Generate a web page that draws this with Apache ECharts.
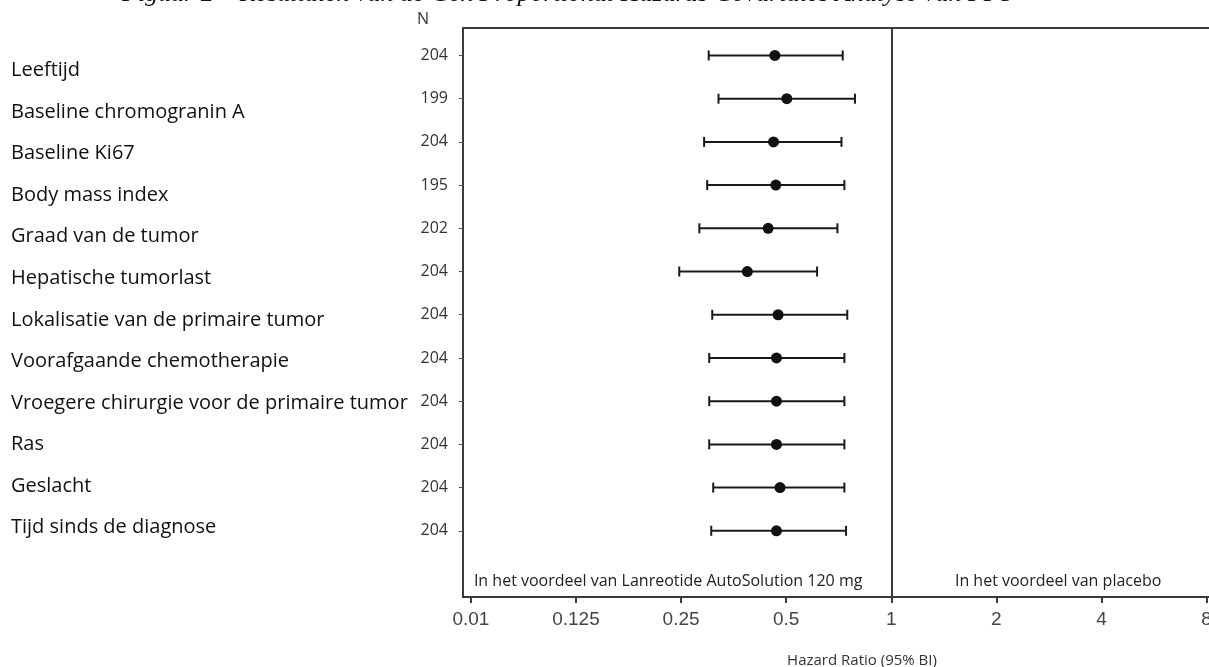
<!DOCTYPE html>
<html>
<head>
<meta charset="utf-8">
<script src="https://cdn.jsdelivr.net/npm/echarts@6/dist/echarts.min.js"></script>
<style>
  html, body { margin: 0; padding: 0; background: #fff; }
  #forest { width: 1209px; height: 667px; }
</style>
</head>
<body>
<div id="forest"></div>
<script>
// rijen (van boven naar beneden)
var rowNames = ['Leeftijd', 'Baseline chromogranin A', 'Baseline Ki67', 'Body mass index',
    'Graad van de tumor', 'Hepatische tumorlast', 'Lokalisatie van de primaire tumor',
    'Voorafgaande chemotherapie', 'Vroegere chirurgie voor de primaire tumor', 'Ras',
    'Geslacht', 'Tijd sinds de diagnose'];
var nValues = [204, 199, 204, 195, 202, 204, 204, 204, 204, 204, 204, 204];
// hazard ratio + 95% BI
var hrValues = [0.464, 0.502, 0.460, 0.467, 0.444, 0.387, 0.474, 0.469, 0.469, 0.469, 0.480, 0.469];
var lowerCI  = [0.300, 0.320, 0.291, 0.297, 0.282, 0.247, 0.307, 0.301, 0.301, 0.301, 0.309, 0.305];
var upperCI  = [0.726, 0.787, 0.720, 0.734, 0.701, 0.613, 0.748, 0.734, 0.734, 0.734, 0.734, 0.742];
// x-as: log2 schaal, eerste tick is 0.01 (gebroken as)
var tickLabels = ['0.01', '0.125', '0.25', '0.5', '1', '2', '4', '8'];
var tickPos = [-4, -3, -2, -1, 0, 1, 2, 3];

var rowIdx = rowNames.map(function (d, i) { return i; });
var log2 = function (v) { return Math.log(v) / Math.LN2; };

var chart = echarts.init(document.getElementById('forest'));
var dark = '#3a3a3a';
var option = {
    animation: false,
    backgroundColor: '#fff',
    grid: {
        left: 463,
        right: -6,
        top: 28,
        bottom: 70,
        outerBoundsMode: 'none',
        containLabel: false,
        show: true,
        borderColor: dark,
        borderWidth: 2
    },
    xAxis: {
        type: 'value',
        min: -4.075,
        max: 3.08,
        splitLine: { show: false },
        axisLine: { show: false, onZero: false },
        axisTick: {
            show: true,
            customValues: tickPos,
            length: 6,
            lineStyle: { color: dark, width: 2 }
        },
        axisLabel: {
            customValues: tickPos,
            margin: 13,
            color: '#444',
            fontFamily: 'Liberation Sans',
            fontSize: 19,
            formatter: function (v) { return tickLabels[tickPos.indexOf(Math.round(v))]; }
        },
        name: 'Hazard Ratio (95% BI)',
        nameLocation: 'middle',
        nameGap: 56,
        nameTextStyle: {
            color: '#333',
            fontFamily: 'Open Sans',
            fontSize: 15,
            padding: [0, 0, 0, 46]
        }
    },
    yAxis: [
        {
            // N per rij
            type: 'value',
            inverse: true,
            min: -0.636,
            max: 12.532,
            splitLine: { show: false },
            axisLine: { show: false, onZero: false },
            axisTick: {
                show: true,
                customValues: rowIdx,
                length: 4,
                lineStyle: { color: '#555', width: 1 }
            },
            axisLabel: {
                customValues: rowIdx,
                margin: 15,
                color: '#333',
                fontFamily: 'Open Sans',
                fontSize: 16,
                formatter: function (v) { return nValues[Math.round(v)]; }
            }
        },
        {
            // namen van de covariaten
            type: 'value',
            inverse: true,
            position: 'left',
            offset: 0,
            min: -1.022,
            max: 12.668,
            splitLine: { show: false },
            axisLine: { show: false, onZero: false },
            axisTick: { show: false },
            axisLabel: {
                customValues: rowIdx,
                margin: 452,
                align: 'left',
                color: '#111',
                fontFamily: 'Open Sans',
                fontSize: 20,
                formatter: function (v) { return rowNames[Math.round(v)]; }
            }
        }
    ],
    graphic: [
        {
            type: 'text',
            left: 122,
            top: -19,
            style: {
                text: 'Figuur 2 \u2013 Resultaten van de Cox Proportional Hazards Covariates Analyse van PFS',
                font: 'italic 26px "Liberation Serif"',
                fill: '#111'
            }
        },
        {
            type: 'text',
            left: 417,
            top: 11,
            style: { text: 'N', font: '16px "Open Sans"', fill: '#333' }
        }
    ],
    series: [
        {
            type: 'custom',
            name: 'BI',
            renderItem: function (params, api) {
                var y = api.value(0);
                var lo = api.coord([api.value(1), y]);
                var hi = api.coord([api.value(2), y]);
                var cap = 5;
                var st = { stroke: '#1a1a1a', lineWidth: 2 };
                return {
                    type: 'group',
                    children: [
                        { type: 'line', shape: { x1: lo[0], y1: lo[1], x2: hi[0], y2: hi[1] }, style: st },
                        { type: 'line', shape: { x1: lo[0], y1: lo[1] - cap, x2: lo[0], y2: lo[1] + cap }, style: st },
                        { type: 'line', shape: { x1: hi[0], y1: hi[1] - cap, x2: hi[0], y2: hi[1] + cap }, style: st }
                    ]
                };
            },
            encode: { x: [1, 2], y: 0 },
            data: rowIdx.map(function (i) { return [i, log2(lowerCI[i]), log2(upperCI[i])]; }),
            z: 2
        },
        {
            type: 'scatter',
            name: 'HR',
            symbolSize: 11,
            itemStyle: { color: '#111', opacity: 1 },
            data: rowIdx.map(function (i) { return [log2(hrValues[i]), i]; }),
            z: 3,
            markLine: {
                silent: true,
                symbol: 'none',
                label: { show: false },
                lineStyle: { color: dark, width: 2, type: 'solid' },
                data: [{ xAxis: 0 }]
            },
            markArea: {
                silent: true,
                itemStyle: { color: 'rgba(0,0,0,0)' },
                label: {
                    position: 'insideBottom',
                    distance: 8,
                    color: '#222',
                    fontFamily: 'Open Sans',
                    fontSize: 16
                },
                data: [
                    [{ xAxis: -4.075, name: 'In het voordeel van Lanreotide AutoSolution 120 mg', label: { offset: [-9, 0] } }, { xAxis: 0 }],
                    [{ xAxis: 0, name: 'In het voordeel van placebo', label: { offset: [5, 0] } }, { xAxis: 3.08 }]
                ]
            }
        }
    ]
};
chart.setOption(option);
</script>
</body>
</html>
